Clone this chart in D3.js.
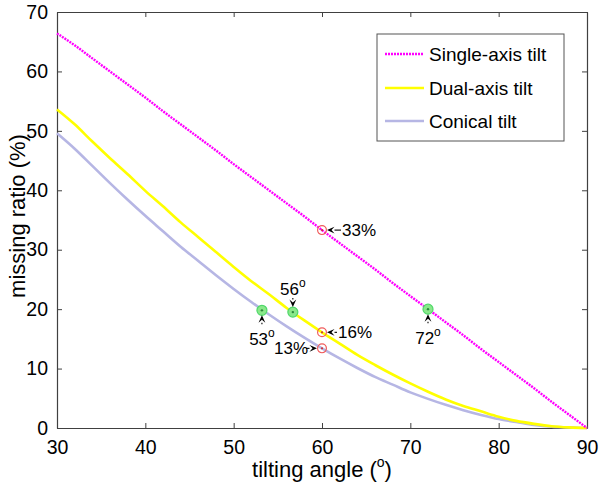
<!DOCTYPE html>
<html>
<head>
<meta charset="utf-8">
<script src="https://cdn.jsdelivr.net/npm/d3@7"></script>
<style>
  html, body { margin: 0; padding: 0; background: #fff; }
  svg { display: block; }
  text { font-family: Arial, "Liberation Sans", sans-serif; fill: #000; }
</style>
</head>
<body>
<svg id="chart" width="600" height="488"></svg>
<script>
// ---------------- data ----------------
const angles = [30,32,34,36,38,40,42,44,46,48,50,52,54,56,58,60,62,64,66,68,70,72,74,76,78,80,82,84,86,88,90];
const singleAxis = [66.4,64.4,62.2,60.0,57.8,55.6,53.3,51.1,48.9,46.7,44.4,42.2,40.0,37.8,35.6,33.3,31.1,28.9,26.7,24.4,22.2,20.0,17.8,15.6,13.3,11.1,8.9,6.7,4.4,2.2,0];
const dualAxis   = [53.6,51.1,48.2,45.4,42.7,39.9,37.3,34.6,32.1,29.6,27.1,24.7,22.5,20.2,18.1,16.1,14.2,12.3,10.6,9.0,7.5,6.1,4.8,3.7,2.8,1.9,1.2,0.7,0.3,0.1,0];
const conical    = [49.6,47.0,44.1,41.2,38.4,35.7,33.1,30.5,28.1,25.7,23.4,21.2,19.1,17.1,15.2,13.4,11.7,10.1,8.6,7.3,6.0,4.9,3.9,3.0,2.2,1.5,1.0,0.5,0.2,0.1,0];
const seriesNames = ["Single-axis tilt", "Dual-axis tilt", "Conical tilt"];
const xTicks = [30,40,50,60,70,80,90];
const yTicks = [0,10,20,30,40,50,60,70];
// green markers: angle where missing ratio reaches ~20%
const markAngles = [53.2, 56.7, 72.0];
const markValues = [19.8, 19.5, 20.0];
const markLabels = ["53", "56", "72"];
// red markers: missing ratio at 60 degrees
const checkAngles = [60, 60, 60];
const checkValues = [33.3, 16.1, 13.4];
const checkLabels = ["33%", "16%", "13%"];

// ---------------- layout ----------------
const W = 600, H = 488;
const m = {left: 57, right: 13, top: 12, bottom: 60};
const pw = W - m.left - m.right, ph = H - m.top - m.bottom;
const svg = d3.select("#chart");
const g = svg.append("g").attr("transform", `translate(${m.left},${m.top})`);

const x = d3.scaleLinear().domain([30, 90]).range([0, pw]);
const y = d3.scaleLinear().domain([0, 70]).range([ph, 0]);

const axisColor = "#404040";
const tickFont = "19.5px";

// axes (inward ticks, box)
const xb = g.append("g").attr("transform", `translate(0,${ph})`)
  .call(d3.axisBottom(x).tickValues(xTicks).tickFormat(d3.format("d")).tickSizeInner(-5).tickSizeOuter(0).tickPadding(12));
const xt = g.append("g")
  .call(d3.axisTop(x).tickValues(xTicks).tickFormat("").tickSizeInner(-5).tickSizeOuter(0));
const yl = g.append("g")
  .call(d3.axisLeft(y).tickValues(yTicks).tickFormat(d3.format("d")).tickSizeInner(-5).tickSizeOuter(0).tickPadding(9));
const yr = g.append("g").attr("transform", `translate(${pw},0)`)
  .call(d3.axisRight(y).tickValues(yTicks).tickFormat("").tickSizeInner(-5).tickSizeOuter(0));
[xb, xt, yl, yr].forEach(a => {
  a.select(".domain").attr("stroke", axisColor).attr("stroke-width", 1.2);
  a.selectAll(".tick line").attr("stroke", axisColor);
  a.selectAll(".tick text").style("font-size", tickFont).attr("fill", "#000")
    .style("font-family", 'Arial, "Liberation Sans", sans-serif');
});

// ---------------- lines ----------------
const rows = angles.map((a, i) => ({a, s: singleAxis[i], d: dualAxis[i], c: conical[i]}));
const mk = key => d3.line().x(r => x(r.a)).y(r => y(r[key])).curve(d3.curveMonotoneX);

const styles = [
  {key: "s", color: "#ff00ff", width: 2.4, dash: "2,1"},
  {key: "d", color: "#ffff00", width: 2.6, dash: null},
  {key: "c", color: "#b6b6e4", width: 2.6, dash: null}
];
// draw conical, then dual, then single on top
[2, 1, 0].forEach(i => {
  const s = styles[i];
  g.append("path").datum(rows)
    .attr("d", mk(s.key))
    .attr("fill", "none")
    .attr("stroke", s.color)
    .attr("stroke-width", s.width)
    .attr("stroke-dasharray", s.dash);
});

// ---------------- markers ----------------
markAngles.forEach((a, i) => {
  g.append("circle").attr("cx", x(a)).attr("cy", y(markValues[i])).attr("r", 5)
    .attr("fill", "#8ae88a").attr("stroke", "#4fd86a").attr("stroke-width", 1.2);
  g.append("circle").attr("cx", x(a)).attr("cy", y(markValues[i])).attr("r", 1.2).attr("fill", "#2c8a3c");
});
checkAngles.forEach((a, i) => {
  g.append("circle").attr("cx", x(a)).attr("cy", y(checkValues[i])).attr("r", 4.4)
    .attr("fill", "none").attr("stroke", "#f05a5a").attr("stroke-width", 1.2);
  g.append("circle").attr("cx", x(a)).attr("cy", y(checkValues[i])).attr("r", 1.1).attr("fill", "#d03030");
});

// ---------------- annotations ----------------
function arrow(x1, y1, x2, y2) { // from tail (x1,y1) to tip (x2,y2)
  const ang = Math.atan2(y2 - y1, x2 - x1);
  const L = 7.5, Wd = 3.4;
  const bx = x2 - L * Math.cos(ang), by = y2 - L * Math.sin(ang);
  const px = -Math.sin(ang) * Wd, py = Math.cos(ang) * Wd;
  g.append("line").attr("x1", x1).attr("y1", y1).attr("x2", bx).attr("y2", by)
    .attr("stroke", "#000").attr("stroke-width", 1.1);
  const ix = x2 - 0.6 * L * Math.cos(ang), iy = y2 - 0.6 * L * Math.sin(ang);
  g.append("path")
    .attr("d", `M${x2},${y2}L${bx + px},${by + py}L${ix},${iy}L${bx - px},${by - py}Z`)
    .attr("fill", "#000");
}
const annFont = "17px";

// percentage labels at 60 degrees
checkAngles.forEach((a, i) => {
  const cx = x(a), cy = y(checkValues[i]);
  if (i < 2) {
    const tail = i === 0 ? 19 : 15;
    arrow(cx + tail, cy, cx + 5, cy);
    g.append("text").attr("x", cx + tail + 1).attr("y", cy + 6)
      .style("font-size", annFont).text(checkLabels[i]);
  } else {
    arrow(cx - 16, cy, cx - 5, cy);
    g.append("text").attr("x", cx - 14).attr("y", cy + 6).attr("text-anchor", "end")
      .style("font-size", annFont).text(checkLabels[i]);
  }
});

// degree labels
markAngles.forEach((a, i) => {
  const cx = x(a), cy = y(markValues[i]);
  let t;
  if (i === 1) {
    arrow(cx, cy - 14, cx, cy - 5);
    t = g.append("text").attr("x", cx).attr("y", cy - 17);
  } else {
    arrow(cx, cy + 14, cx, cy + 5);
    t = g.append("text").attr("x", cx).attr("y", cy + 35);
  }
  t.attr("text-anchor", "middle").style("font-size", annFont);
  t.append("tspan").text(markLabels[i]);
  t.append("tspan").attr("dy", -8).style("font-size", "12px").text("o");
});

// ---------------- axis labels ----------------
const xlab = svg.append("text").attr("x", m.left + pw / 2).attr("y", 477)
  .attr("text-anchor", "middle").style("font-size", "22px");
xlab.append("tspan").text("tilting angle (");
xlab.append("tspan").attr("dy", -10).style("font-size", "14px").text("o");
xlab.append("tspan").attr("dy", 10).text(")");

svg.append("text").attr("transform", `translate(25,${m.top + ph / 2 - 4}) rotate(-90)`)
  .attr("text-anchor", "middle").style("font-size", "22px").text("missing ratio (%)");

// ---------------- legend ----------------
const lg = svg.append("g");
lg.append("rect").attr("x", 377).attr("y", 34).attr("width", 187).attr("height", 107)
  .attr("fill", "#fff").attr("stroke", "#555").attr("stroke-width", 1);
const legY = [54, 88, 121];
seriesNames.forEach((name, i) => {
  const s = styles[i];
  lg.append("line").attr("x1", 385).attr("x2", 424).attr("y1", legY[i]).attr("y2", legY[i])
    .attr("stroke", s.color).attr("stroke-width", s.width).attr("stroke-dasharray", s.dash);
  lg.append("text").attr("x", 429).attr("y", legY[i] + 7).style("font-size", "19px").text(name);
});
</script>
</body>
</html>
